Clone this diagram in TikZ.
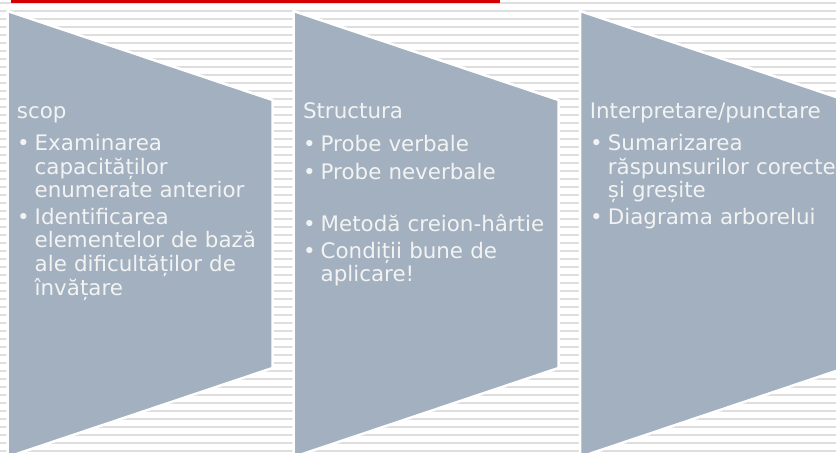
\documentclass[tikz,border=0pt]{standalone}
\usepackage{fontspec}
\setmainfont{DejaVu Sans}
\definecolor{panelgray}{RGB}{162,176,191}
\definecolor{stripegray}{RGB}{222,222,222}
\definecolor{barred}{RGB}{214,0,0}
\definecolor{textwhite}{RGB}{243,243,243}
\tikzstyle{panel} = [fill=panelgray,draw=white,line width=1.25pt]
\tikzstyle{stripe} = [draw=stripegray,line width=1pt]
\tikzstyle{headtext} = [text=textwhite,inner sep=0pt,anchor=base west,font=\fontsize{10.7}{11.8}\selectfont]
\tikzstyle{bullettext} = [headtext,text width=130pt,align=left]
\tikzstyle{bulletdot} = [text=textwhite,inner sep=0pt,anchor=base,font=\fontsize{10.7}{11.8}\selectfont]

\begin{document}
\begin{tikzpicture}[x=0.5pt,y=-0.5pt]
        \useasboundingbox (0,0) rectangle (836,452);
        \clip (0,0) rectangle (836,452);

        %striped background
        \foreach \y in {3,11,...,451}
            \draw [stripe] (0,\y) -- (836,\y);
        \fill [barred] (11,0) rectangle (500,3.3);

        %three panels
        \foreach \x in {7.5,293.5,580}
            \filldraw [panel] (\x,11) -- ++(265,89) -- ++(0,268) -- ++(-265,89) -- cycle;

        %first panel
        \node at (16.5,118.5) [headtext] (scop) {scop};
        \node at (23.5,150.7) [bulletdot] (scopdotA) {•};
        \node at (34.3,150.7) [bullettext] (scopA) {Examinarea\\capacităților\\enumerate anterior};
        \node at (23.5,224.3) [bulletdot] (scopdotB) {•};
        \node at (34.3,224.3) [bullettext] (scopB) {Identificarea\\elementelor de bază\\ale dificultăților de\\învățare};

        %second panel
        \node at (302.6,118.5) [headtext] (struct) {Structura};
        \node at (309.5,151.5) [bulletdot] (structdotA) {•};
        \node at (320.3,151.5) [bullettext] (structA) {Probe verbale};
        \node at (309.5,179) [bulletdot] (structdotB) {•};
        \node at (320.3,179) [bullettext] (structB) {Probe neverbale};
        \node at (309.5,231.5) [bulletdot] (structdotC) {•};
        \node at (320.3,231.5) [bullettext] (structC) {Metodă creion-hârtie};
        \node at (309.5,258.3) [bulletdot] (structdotD) {•};
        \node at (320.3,258.3) [bullettext] (structD) {Condiții bune de\\aplicare!};

        %third panel
        \node at (589.4,118.5) [headtext] (interp) {Interpretare/punctare};
        \node at (596.5,150.7) [bulletdot] (interpdotA) {•};
        \node at (607.5,150.7) [bullettext] (interpA) {Sumarizarea\\răspunsurilor corecte\\și greșite};
        \node at (596.5,224.3) [bulletdot] (interpdotB) {•};
        \node at (607.5,224.3) [bullettext] (interpB) {Diagrama arborelui};

    \end{tikzpicture}
\end{document}
